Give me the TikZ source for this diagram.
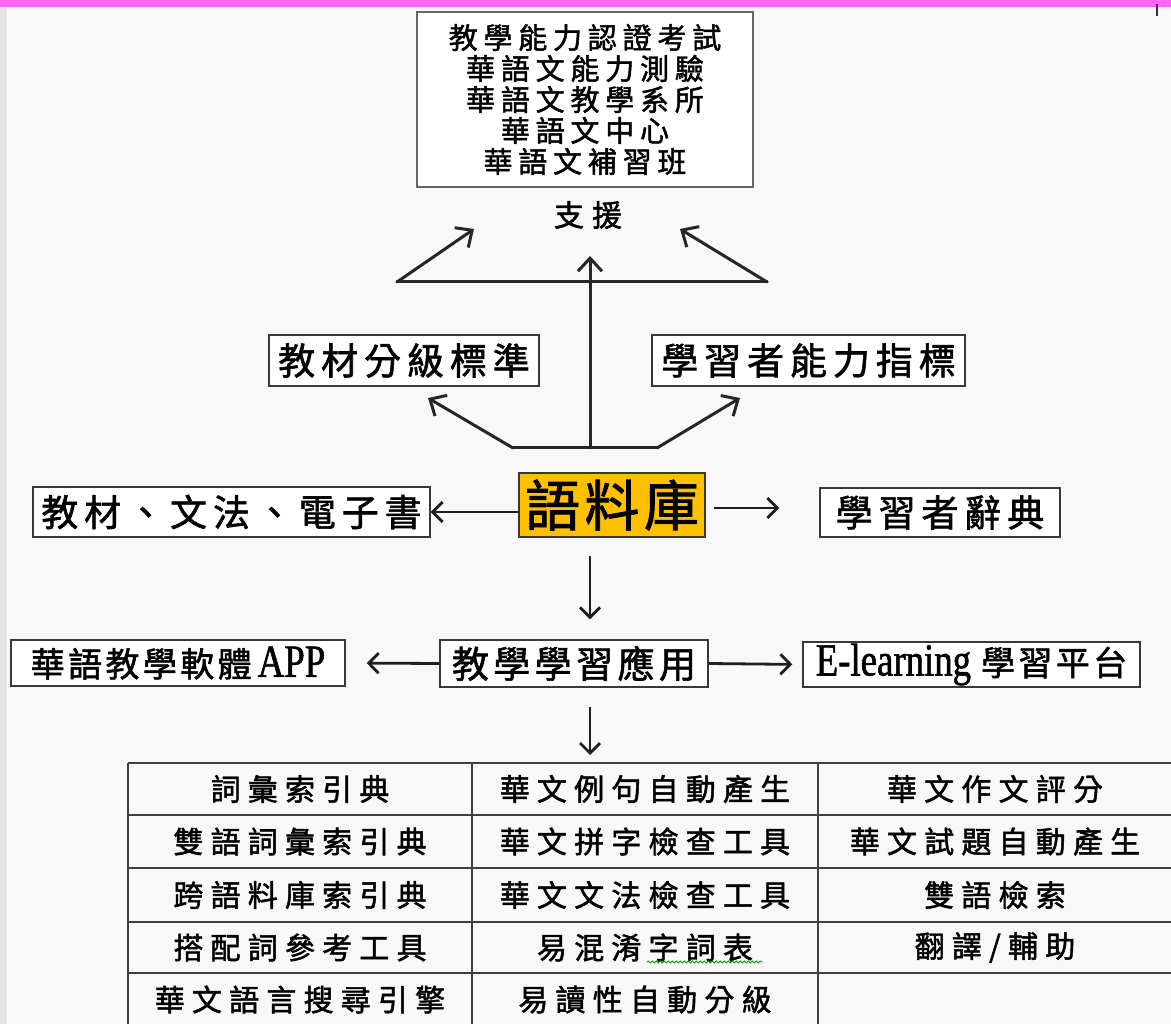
\documentclass[tikz,border=0pt]{standalone}
\usepackage{fontspec}
\setmainfont{Liberation Serif}
\newfontfamily\cjk{Noto Sans CJK TC}[FakeBold=1.6]
\usetikzlibrary{arrows.meta,decorations.pathmorphing}
\newcommand\cf[3]{\cjk\fontsize{#1}{#2}\selectfont\addfontfeatures{LetterSpace=#3}}
\newcommand\lat[1]{{\rmfamily\fontsize{46pt}{48pt}\selectfont\addfontfeatures{FakeStretch=0.8,FakeBold=1.2}#1}}
\definecolor{bgc}{HTML}{F8F8F8}
\definecolor{corp}{HTML}{FFC000}
\definecolor{band}{HTML}{FF66FF}
\begin{document}
\begin{tikzpicture}[x=1pt,y=-1pt,
  box/.style={draw=black!78,line width=1.3pt,inner sep=0pt},
  bigarr/.style={line width=3pt,black!85,line cap=round},
  bigtip/.style={-{Straight Barb[length=13pt,width=24pt,line width=3pt]}},
  smarr/.style={line width=2.8pt,black!88,-{Straight Barb[length=10pt,width=20pt,line width=2.8pt]}},
  grid/.style={line width=1.5pt,black!75},
  cell/.style={font={\cf{30pt}{32pt}{24}}}]
\useasboundingbox (0,0) rectangle (1171,1024);
\fill[bgc] (0,0) rectangle (1171,1024);
\fill[black!10] (0,8) rectangle (7,1024);
\fill[band] (0,0) rectangle (1171,7);
\draw[black!80,line width=1.2pt] (1157,4) -- (1157,16);
% top box
\node[box,draw=black!60,fill=white,minimum width=336pt,minimum height=175pt,align=center,
  font={\cf{29pt}{31pt}{20}}] (top) at (585,99.5)
  {教學能力認證考試\\華語文能力測驗\\華語文教學系所\\華語文中心\\華語文補習班};
\node[font={\cf{30pt}{32pt}{27}}] (sup) at (588,215) {支援};
% middle boxes
\node[box,fill=white,minimum width=270pt,minimum height=51pt,font={\cf{37pt}{40pt}{16}}] (grade) at (404,360.5) {教材分級標準};
\node[box,fill=white,minimum width=313pt,minimum height=51pt,font={\cf{37pt}{40pt}{16}}] (ind) at (808.5,360.5) {學習者能力指標};
\node[box,fill=corp,minimum width=186pt,minimum height=64pt,font={\cf{55pt}{58pt}{8}}] (corpus) at (612,505) {語料庫};
\node[box,fill=white,minimum width=397pt,minimum height=50pt,font={\cf{37pt}{40pt}{16}}] (mat) at (231.5,512) {教材、文法、電子書};
\node[box,fill=white,minimum width=240pt,minimum height=49pt,font={\cf{37pt}{40pt}{16}}] (dict) at (940,512.5) {學習者辭典};
\node[box,fill=white,minimum width=268pt,minimum height=47pt,font={\cf{37pt}{40pt}{12}}] (teach) at (574,663.5) {教學學習應用};
\node[box,fill=white,minimum width=334pt,minimum height=46pt,font={\cf{34pt}{36pt}{10}}] (app) at (178,663) {華語教學軟體\hspace{6pt}\lat{APP}};
\node[box,fill=white,minimum width=337pt,minimum height=45pt,font={\cf{34pt}{36pt}{10}}] (elearn) at (971.5,664.5) {\lat{E-learning}\hspace{10pt}學習平台};
% upper arrows
\coordinate (ul) at (397,282);
\coordinate (ur) at (767,282);
\coordinate (ultip) at (474,229);
\coordinate (urtip) at (680,229);
\coordinate (ll) at (513,448);
\coordinate (lr) at (657,448);
\coordinate (lm) at (590,448);
\coordinate (lltip) at (428,398);
\coordinate (lrtip) at (740,398);
\coordinate (vtip) at (590,256);
\draw[bigarr] (ul) -- (ur);
\draw[bigarr,bigtip] (ul) -- (ultip);
\draw[bigarr,bigtip] (ur) -- (urtip);
\draw[bigarr] (ll) -- (lr);
\draw[bigarr,bigtip] (ll) -- (lltip);
\draw[bigarr,bigtip] (lr) -- (lrtip);
\draw[bigarr,bigtip] (lm) -- (vtip);
% corpus arrows
\draw[smarr] (corpus.west |- mat.east) -- (mat.east);
\draw[smarr,shorten <=8pt,shorten >=40pt] (corpus.east |- 0,508) -- (dict.west |- 0,508);
\draw[smarr,shorten <=18pt,shorten >=20pt] (corpus.south -| lm) -- (teach.north -| lm);
\draw[smarr,shorten >=21pt] (teach.west) -- (app.east);
\draw[smarr,shorten >=10pt] (teach.east) -- (elearn.west);
% table
\coordinate (tabtop) at (590,763);
\draw[smarr,shorten <=19pt,shorten >=8pt] (teach.south -| lm) -- (tabtop);
\foreach \yy in {763,815,868,922,973} \draw[grid] (128,\yy) -- (1175,\yy);
\foreach \xx in {128,472,818} \draw[grid] (\xx,763) -- (\xx,1030);
\node[cell] (c11) at (300,789) {詞彙索引典};
\node[cell] (c21) at (300,841.5) {雙語詞彙索引典};
\node[cell] (c31) at (300,895) {跨語料庫索引典};
\node[cell] (c41) at (300,947.5) {搭配詞參考工具};
\node[cell] (c51) at (300,999.5) {華文語言搜尋引擎};
\node[cell] (c12) at (645,789) {華文例句自動產生};
\node[cell] (c22) at (645,841.5) {華文拼字檢查工具};
\node[cell] (c32) at (645,895) {華文文法檢查工具};
\node[cell] (c42) at (645,947.5) {易混淆字詞表};
\node[cell] (c52) at (645,999.5) {易讀性自動分級};
\node[cell] (c13) at (995,789) {華文作文評分};
\node[cell] (c23) at (995,841.5) {華文試題自動產生};
\node[cell] (c33) at (995,895) {雙語檢索};
\node[cell] (c43) at (995,947.5) {翻譯/輔助};
\draw[green!60!black,line width=0.8pt,decorate,decoration={snake,amplitude=1pt,segment length=4pt}] (647,962) -- (763,962);
\end{tikzpicture}
\end{document}
